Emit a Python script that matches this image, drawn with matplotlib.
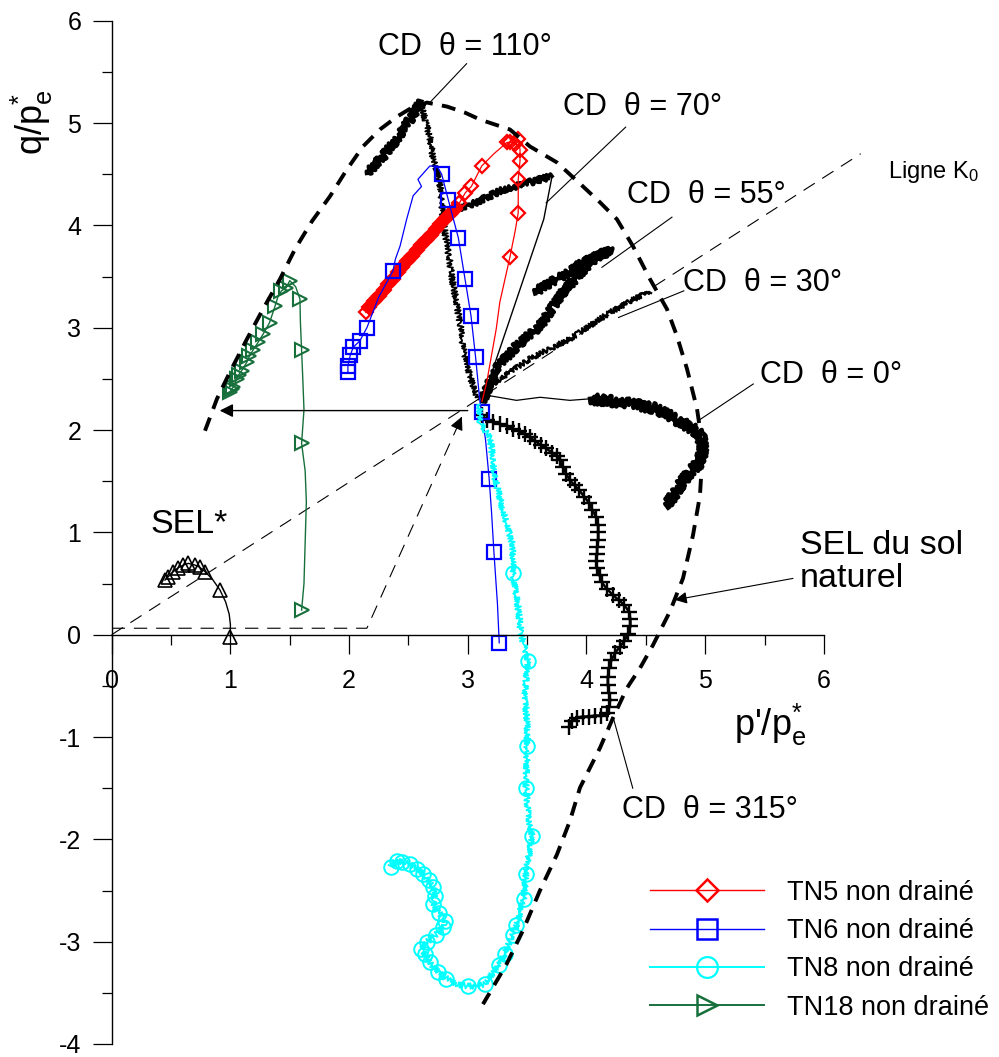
import matplotlib
matplotlib.use("Agg")
import matplotlib.pyplot as plt
from matplotlib.ticker import MultipleLocator
from matplotlib.lines import Line2D
import numpy as np

plt.rcParams['font.family'] = ['Liberation Sans', 'DejaVu Sans']
plt.rcParams['mathtext.fontset'] = 'custom'
plt.rcParams['mathtext.rm'] = 'Liberation Sans'
plt.rcParams['mathtext.it'] = 'Liberation Sans'
plt.rcParams['mathtext.default'] = 'regular'
plt.rcParams['axes.unicode_minus'] = False

# ---------------- data (p'/p*e , q/p*e) ----------------
sel_x = [0.786, 0.887, 0.997, 1.140, 1.275, 1.418, 1.544, 1.687, 1.839, 1.982, 2.117, 2.260, 2.404,
         2.530, 2.656, 2.825, 2.976, 3.103, 3.355, 3.524, 3.751, 3.970, 4.114, 4.257, 4.392, 4.535,
         4.678, 4.762, 4.847, 4.931, 4.956, 4.973, 4.956, 4.897, 4.813, 4.704, 4.560, 4.451, 4.341,
         4.223, 4.114, 3.945, 3.861, 3.751, 3.608, 3.465, 3.326, 3.128]
sel_y = [1.993, 2.305, 2.568, 2.890, 3.182, 3.475, 3.767, 4.040, 4.284, 4.547, 4.771, 4.937, 5.063,
         5.151, 5.200, 5.161, 5.102, 5.034, 4.937, 4.771, 4.615, 4.381, 4.225, 4.059, 3.796, 3.475,
         3.182, 2.919, 2.597, 2.208, 2.013, 1.691, 1.360, 0.970, 0.551, 0.229, -0.102, -0.327, -0.521,
         -0.814, -1.106, -1.496, -1.818, -2.149, -2.500, -2.890, -3.221, -3.611]

k0_x = [0.0, 6.31]
k0_y = [0.0, 4.70]
iso_x = [0.0, 2.15, 2.95]
iso_y = [0.063, 0.063, 2.13]

selstar_x = [1.00, 1.00, 0.99, 0.96, 0.912, 0.85, 0.786, 0.74, 0.702, 0.646, 0.603, 0.561, 0.519, 0.477, 0.449]
selstar_y = [-0.02, 0.10, 0.20, 0.32, 0.437, 0.54, 0.616, 0.66, 0.680, 0.697, 0.680, 0.655, 0.616, 0.567, 0.534]
selstar_mk = [0, 4, 6, 7, 8, 9, 10, 11, 12, 13, 14]

tn18_x = [1.60, 1.62, 1.63, 1.64, 1.63, 1.60, 1.62, 1.61, 1.60, 1.59, 1.586, 1.55, 1.50, 1.47, 1.43,
          1.40, 1.376, 1.33, 1.277, 1.235, 1.19, 1.16, 1.137, 1.095, 1.07, 1.053, 1.025, 1.01, 0.997]
tn18_y = [0.24, 0.50, 0.90, 1.30, 1.60, 1.87, 2.20, 2.50, 2.78, 3.05, 3.28, 3.40, 3.46, 3.39, 3.36,
          3.30, 3.21, 3.05, 2.94, 2.86, 2.78, 2.72, 2.66, 2.58, 2.54, 2.50, 2.42, 2.40, 2.37]
tn18_mk = [0, 5, 8, 10, 12, 13, 14, 16, 17, 18, 19, 20, 21, 22, 23, 24, 25, 26, 27, 28]

tn5_x = [3.12, 3.16, 3.24, 3.27, 3.355, 3.40, 3.425, 3.425, 3.44, 3.44, 3.425, 3.40, 3.355, 3.33,
         3.22, 3.117, 3.03, 2.98, 2.93, 2.89, 2.85, 2.81, 2.77, 2.73, 2.69, 2.65, 2.61, 2.57, 2.53,
         2.49, 2.45, 2.41, 2.37, 2.33, 2.29, 2.25, 2.21, 2.17, 2.14]
tn5_y = [2.28, 2.47, 2.99, 3.25, 3.69, 3.95, 4.125, 4.45, 4.63, 4.74, 4.84, 4.80, 4.81, 4.81,
         4.70, 4.58, 4.38, 4.32, 4.22, 4.16, 4.11, 4.06, 4.01, 3.96, 3.91, 3.86, 3.81, 3.76, 3.70,
         3.65, 3.59, 3.54, 3.48, 3.43, 3.37, 3.31, 3.26, 3.20, 3.15]
tn5_mk = [4, 6, 7, 8, 9, 10, 11, 12, 13, 15] + list(range(16, 39))
tn5_band_start = 18

tn6_x = [3.265, 3.25, 3.22, 3.20, 3.18, 3.15, 3.117, 3.10, 3.066, 3.027, 2.976, 2.92, 2.836, 2.78,
         2.74, 2.68, 2.58, 2.61, 2.54, 2.485, 2.43, 2.39, 2.37, 2.25, 2.15, 2.09, 2.035, 2.01, 1.99, 1.99]
tn6_y = [-0.08, 0.30, 0.81, 1.20, 1.525, 1.90, 2.175, 2.30, 2.71, 3.117, 3.48, 3.88, 4.25, 4.50,
         4.58, 4.58, 4.45, 4.38, 4.29, 4.06, 3.80, 3.67, 3.555, 3.30, 3.00, 2.87, 2.81, 2.73, 2.63, 2.565]
tn6_mk = [0, 2, 4, 6, 8, 9, 10, 11, 12, 13, 22, 24, 25, 26, 27, 28, 29]

tn8_x = [3.10, 3.10, 3.19, 3.23, 3.30, 3.38, 3.38, 3.425, 3.45, 3.51, 3.48, 3.50, 3.50, 3.49, 3.51,
         3.54, 3.49, 3.47, 3.41, 3.38, 3.31, 3.26, 3.145, 3.06, 3.00, 2.90, 2.82, 2.75, 2.68, 2.64,
         2.61, 2.66, 2.73, 2.79, 2.81, 2.76, 2.71, 2.72, 2.71, 2.67, 2.625, 2.57, 2.51, 2.45, 2.40, 2.35]
tn8_y = [2.25, 2.08, 1.915, 1.525, 1.20, 0.875, 0.60, 0.26, 0.0, -0.26, -0.55, -0.88, -1.09, -1.50, -1.76,
         -1.97, -2.34, -2.585, -2.84, -2.93, -3.12, -3.23, -3.41, -3.44, -3.43, -3.42, -3.36, -3.30, -3.20, -3.12,
         -3.07, -3.00, -2.93, -2.86, -2.80, -2.72, -2.63, -2.55, -2.47, -2.40, -2.34, -2.29, -2.24, -2.22, -2.21, -2.27]
tn8_mk = [6, 9, 12, 13, 15, 16, 17, 18, 19, 20, 21, 22, 24, 26, 27, 28, 29, 30, 31, 32, 33, 34, 35,
          36, 37, 38, 39, 40, 41, 42, 43, 44, 45]

cd110_x = [3.09, 3.05, 3.00, 2.96, 2.934, 2.878, 2.836, 2.79, 2.77, 2.71, 2.68, 2.64, 2.61,
           2.51, 2.40, 2.29, 2.15]
cd110_y = [2.30, 2.40, 2.60, 2.82, 3.05, 3.41, 3.735, 4.06, 4.38, 4.64, 4.87, 5.03, 5.21,
           5.03, 4.84, 4.68, 4.51]
cd110_split = 12

cd70_x = [3.12, 3.64, 3.71, 3.52, 3.30, 3.10, 2.93]
cd70_y = [2.28, 4.06, 4.48, 4.42, 4.35, 4.24, 4.16]
cd70_split = 2

cd55_x = [3.12, 3.24, 3.41, 3.61, 3.80, 4.00, 4.17, 4.21, 4.086, 3.92, 3.75, 3.61, 3.57]
cd55_y = [2.28, 2.60, 2.82, 3.02, 3.345, 3.60, 3.77, 3.75, 3.70, 3.60, 3.475, 3.38, 3.33]

cd30_x = [3.12, 3.19, 3.52, 3.86, 4.20, 4.48, 4.535]
cd30_y = [2.28, 2.435, 2.695, 2.89, 3.15, 3.33, 3.36]

cd0_x = [3.12, 3.16, 3.41, 3.61, 3.86, 4.03, 4.31, 4.59, 4.79, 4.90, 4.96, 4.98, 4.96, 4.87, 4.79, 4.70, 4.675]
cd0_y = [2.30, 2.34, 2.29, 2.32, 2.29, 2.305, 2.27, 2.21, 2.08, 2.01, 1.95, 1.82, 1.69, 1.59, 1.46, 1.30, 1.25]
cd0_split = 5

cd315_x = [3.12, 3.16, 3.21, 3.27, 3.33, 3.38, 3.43, 3.48, 3.52, 3.57, 3.62, 3.66, 3.71, 3.75, 3.78,
           3.80, 3.83, 3.86, 3.90, 3.94, 3.98, 4.02, 4.05, 4.08, 4.10, 4.10, 4.10, 4.09, 4.09, 4.08,
           4.09, 4.11, 4.13, 4.17, 4.22, 4.27, 4.32, 4.36, 4.37, 4.37, 4.35, 4.32, 4.28, 4.24, 4.21,
           4.19, 4.18, 4.18, 4.19, 4.20, 4.19, 4.17, 4.12, 4.07, 4.02, 3.97, 3.92, 3.88, 3.85]
cd315_y = [2.15, 2.10, 2.08, 2.06, 2.04, 2.01, 1.99, 1.96, 1.93, 1.89, 1.85, 1.82, 1.78, 1.75, 1.71,
           1.64, 1.57, 1.51, 1.46, 1.41, 1.35, 1.29, 1.22, 1.15, 1.07, 1.00, 0.93, 0.86, 0.79, 0.72,
           0.65, 0.58, 0.51, 0.45, 0.39, 0.34, 0.29, 0.22, 0.15, 0.08, 0.01, -0.06, -0.12, -0.18, -0.25,
           -0.33, -0.41, -0.49, -0.57, -0.64, -0.71, -0.77, -0.79, -0.79, -0.80, -0.80, -0.81, -0.84, -0.90]

# arrows / leaders
h_arrow = ((3.00, 2.19), (0.91, 2.19))
sel_arrow = ((5.74, 0.55), (4.745, 0.34))
leaders = {
    '110': ((2.99, 5.58), (2.68, 5.20)),
    '70': ((4.33, 4.96), (3.66, 4.22)),
    '55': ((4.72, 4.08), (4.13, 3.59)),
    '30': ((4.82, 3.36), (4.27, 3.10)),
    '0': ((5.405, 2.45), (4.94, 2.09)),
    '315': ((4.39, -1.50), (4.225, -0.81)),
}
labels_cd = {'110': (2.245, 5.745), '70': (3.80, 5.16), '55': (4.34, 4.30),
             '30': (4.815, 3.435), '0': (5.46, 2.54), '315': (4.30, -1.71)}

legend_labels = ['TN5 non drainé', 'TN6 non drainé', 'TN8 non drainé', 'TN18 non drainé']

# ---------------- figure ----------------
fig = plt.figure(figsize=(9.99, 10.57), dpi=100)
ax = fig.add_axes([0.1118, 0.0123, 0.7129, 0.9681])
ax.set_xlim(0, 6)
ax.set_ylim(-4, 6)
for s in ['top', 'right']:
    ax.spines[s].set_visible(False)
ax.spines['bottom'].set_position(('data', 0))
for s in ['left', 'bottom']:
    ax.spines[s].set_linewidth(1.0)
ax.xaxis.set_major_locator(MultipleLocator(1))
ax.xaxis.set_minor_locator(MultipleLocator(0.5))
ax.yaxis.set_major_locator(MultipleLocator(1))
ax.yaxis.set_minor_locator(MultipleLocator(0.5))
ax.tick_params(which='major', direction='out', length=14, width=0.9, labelsize=18)
ax.tick_params(which='minor', direction='out', length=7, width=0.9)
ax.tick_params(axis='x', which='major', pad=11)
ax.tick_params(axis='y', which='major', pad=8)

K = 'black'
# SEL natural soil
ax.plot(sel_x, sel_y, color=K, lw=2.8, ls=(0, (3.6, 2.4)), zorder=6)
# K0 line
ax.plot(k0_x, k0_y, color=K, lw=0.8, ls=(0, (12, 8)), clip_on=False)
# isotropic + ramp path (dashed) with arrow
ax.plot(iso_x, iso_y, color=K, lw=0.8, ls=(0, (12, 8)))
dx = iso_x[2] - iso_x[1]; dy = iso_y[2] - iso_y[1]
ax.annotate('', xy=(iso_x[2], iso_y[2]), xytext=(iso_x[2] - 0.02 * dx, iso_y[2] - 0.02 * dy),
            arrowprops=dict(arrowstyle='-|>', color=K, lw=0.8, mutation_scale=20))
ax.annotate('', xy=h_arrow[1], xytext=h_arrow[0],
            arrowprops=dict(arrowstyle='-|>', color=K, lw=1.0, mutation_scale=20, shrinkA=0, shrinkB=0))

# SEL*
ax.plot(selstar_x, selstar_y, color=K, lw=1.0, marker='^', ms=10.5, mfc='none', mew=1.2,
        markevery=selstar_mk)

# black CD paths
def noisy(x, y, lw, sk=(3, 2, 3), **kw):
    ln, = ax.plot(x, y, color=K, lw=lw, **kw)
    ln.set_sketch_params(*sk)
    return ln

noisy(cd110_x[:cd110_split + 1], cd110_y[:cd110_split + 1], 1.3, (3, 3, 2))
noisy(cd110_x[cd110_split:], cd110_y[cd110_split:], 3.0, (4, 2, 3))
ax.plot(cd70_x[:cd70_split + 1], cd70_y[:cd70_split + 1], color=K, lw=1.0)
noisy(cd70_x[cd70_split:], cd70_y[cd70_split:], 2.6, (3, 2, 3))
noisy(cd55_x, cd55_y, 3.0, (4, 2, 3))
noisy(cd30_x, cd30_y, 1.6, (2.5, 2, 3))
ax.plot(cd0_x[:cd0_split + 1], cd0_y[:cd0_split + 1], color=K, lw=0.9)
noisy(cd0_x[cd0_split:], cd0_y[cd0_split:], 3.2, (5, 2, 3))
ax.plot(cd315_x, cd315_y, color=K, lw=1.8, marker='+', ms=11, mew=1.7, ls='-')

# coloured tests
RED, BLUE, CYAN, GREEN = '#ff0000', '#0000ff', '#00ffff', '#17703c'
ln18, = ax.plot(tn18_x, tn18_y, color=GREEN, lw=1.0, marker='>', ms=10, mfc='none', mew=1.5,
                markevery=tn18_mk)
ax.plot(tn5_x[tn5_band_start:], tn5_y[tn5_band_start:], color=RED, lw=7, solid_capstyle='butt')
ln5, = ax.plot(tn5_x, tn5_y, color=RED, lw=0.9, marker='D', ms=7.5, mfc='none', mew=1.6,
               markevery=tn5_mk)
ln6, = ax.plot(tn6_x, tn6_y, color=BLUE, lw=0.9, marker='s', ms=10.5, mfc='none', mew=1.6,
               markevery=tn6_mk)
ln8, = ax.plot(tn8_x, tn8_y, color=CYAN, lw=1.3, marker='o', ms=10.5, mfc='none', mew=1.4,
               markevery=tn8_mk)
ln8.set_sketch_params(3, 2.5, 2)

# leaders and texts
for key, (p0, p1) in leaders.items():
    ax.plot([p0[0], p1[0]], [p0[1], p1[1]], color=K, lw=0.8)
    tx, ty = labels_cd[key]
    ax.text(tx, ty, 'CD  θ = %s°' % key, fontsize=22, ha='left', va='center')

ax.annotate('', xy=sel_arrow[1], xytext=sel_arrow[0],
            arrowprops=dict(arrowstyle='-|>', color=K, lw=0.8, mutation_scale=18, shrinkA=0, shrinkB=0))
ax.text(5.80, 0.71, 'SEL du sol\nnaturel', fontsize=24.5, ha='left', va='center', linespacing=1.07)
ax.text(0.323, 1.077, 'SEL*', fontsize=24.5, ha='left', va='center')
ax.text(6.54, 4.52, r'Ligne K$_0$', fontsize=17, ha='left', va='center', clip_on=False)

ax.text(5.55, -0.88, r"p'/p$^{*}_{e}$", fontsize=26, ha='center', va='center')
ax.text(-0.674, 5.01, r"q/p$^{*}_{e}$", fontsize=26, ha='center', va='center', rotation=90)

# legend
handles = [
    Line2D([], [], color=RED, lw=1.0, marker='D', ms=11, mfc='none', mew=1.8),
    Line2D([], [], color=BLUE, lw=1.0, marker='s', ms=15, mfc='none', mew=1.8),
    Line2D([], [], color=CYAN, lw=1.4, marker='o', ms=15, mfc='none', mew=1.6),
    Line2D([], [], color=GREEN, lw=1.4, marker='>', ms=14, mfc='none', mew=1.8),
]
fig.legend(handles, legend_labels, loc='center left', bbox_to_anchor=(0.6507, 0.101),
           frameon=False, fontsize=19.5, handlelength=4.2, handletextpad=0.85,
           labelspacing=0.46, borderpad=0, borderaxespad=0, numpoints=1)

fig.savefig('out.png', dpi=100)
